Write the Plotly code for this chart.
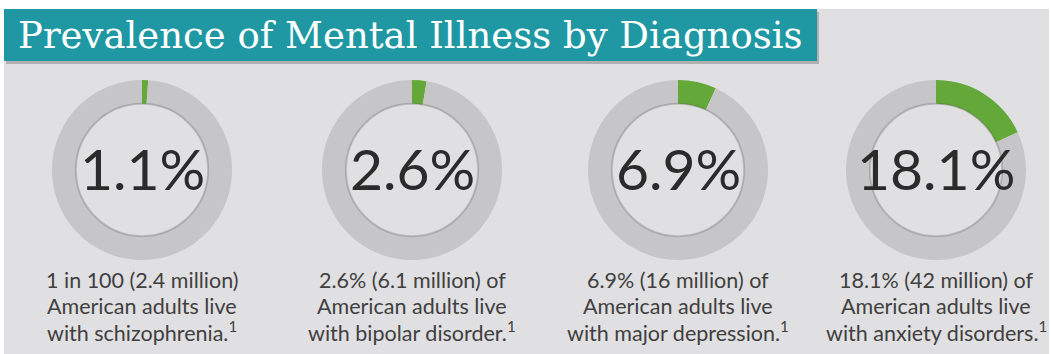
import plotly.graph_objects as go

# Prevalence figures (% of American adults)
diagnoses = ["Schizophrenia", "Bipolar disorder", "Major depression", "Anxiety disorders"]
prevalence = [1.1, 2.6, 6.9, 18.1]
center_labels = ["1.1%", "2.6%", "6.9%", "18.1%"]
captions = [
    ["1 in 100 (2.4 million)", "American adults live", "with schizophrenia."],
    ["2.6% (6.1 million) of", "American adults live", "with bipolar disorder."],
    ["6.9% (16 million) of", "American adults live", "with major depression."],
    ["18.1% (42 million) of", "American adults live", "with anxiety disorders."],
]
footnote = "1"
title = "Prevalence of Mental Illness by Diagnosis"

W, H = 1051, 354
centers_x = [142, 412, 678, 936]
center_y = 170
radius = 90
hole = 0.735

GREEN = "#64a83a"
RING = "#c6c5c7"
BG = "#e0dfe1"
TEAL = "#1f98a4"
INK = "#2b2b2b"
CAPTION_INK = "#404040"

fig = go.Figure()
shapes = [
    # grey panel
    dict(type="rect", xref="paper", yref="paper",
         x0=4 / W, x1=1049 / W, y0=0, y1=1 - 9 / H,
         fillcolor=BG, line=dict(width=0), layer="below"),
    # banner shadow
    dict(type="rect", xref="paper", yref="paper",
         x0=6 / W, x1=819 / W, y0=1 - 64 / H, y1=1 - 12 / H,
         fillcolor="rgba(90,90,90,0.35)", line=dict(width=0), layer="below"),
    # teal title banner
    dict(type="rect", xref="paper", yref="paper",
         x0=4 / W, x1=817 / W, y0=1 - 61 / H, y1=1 - 9 / H,
         fillcolor=TEAL, line=dict(width=0), layer="below"),
]

for i, (name, pct) in enumerate(zip(diagnoses, prevalence)):
    cx = centers_x[i]
    fig.add_trace(go.Pie(
        labels=[name, "Other"],
        values=[pct, 100 - pct],
        sort=False,
        direction="clockwise",
        rotation=0,
        hole=hole,
        marker=dict(colors=[GREEN, RING], line=dict(width=0)),
        textinfo="none",
        hoverinfo="skip",
        showlegend=False,
        domain=dict(
            x=[(cx - radius) / W, (cx + radius) / W],
            y=[1 - (center_y + radius) / H, 1 - (center_y - radius) / H],
        ),
    ))
    # soft rim along the inside edge of the ring
    r_in = radius * hole
    shapes.append(dict(
        type="circle", xref="paper", yref="paper",
        x0=(cx - r_in) / W, x1=(cx + r_in) / W,
        y0=1 - (center_y + r_in) / H, y1=1 - (center_y - r_in) / H,
        line=dict(color="rgba(95,95,95,0.28)", width=2), layer="above",
    ))
    # large percentage in the middle of the ring
    fig.add_annotation(
        x=cx / W, y=1 - (center_y - 2) / H, xref="paper", yref="paper",
        text=center_labels[i], showarrow=False,
        font=dict(family="Lato, sans-serif", size=57, color=INK),
        xanchor="center", yanchor="middle",
    )
    # three-line caption under each ring
    lines = list(captions[i])
    lines[-1] = lines[-1] + f"<sup>{footnote}</sup>"
    for j, line in enumerate(lines):
        fig.add_annotation(
            x=cx / W, y=1 - (280 + 25.5 * j) / H, xref="paper", yref="paper",
            text=line, showarrow=False,
            font=dict(family="Lato, 'Open Sans', sans-serif", size=21.5, color=CAPTION_INK),
            xanchor="center", yanchor="middle",
        )

fig.add_annotation(
    x=16 / W, y=1 - 35 / H, xref="paper", yref="paper",
    text=title, showarrow=False,
    font=dict(family="'DejaVu Serif', serif", size=37, color="white"),
    xanchor="left", yanchor="middle",
)

fig.update_layout(
    width=W, height=H,
    margin=dict(l=0, r=0, t=0, b=0),
    paper_bgcolor="white",
    plot_bgcolor="white",
    shapes=shapes,
    showlegend=False,
)

fig.write_html("out.html")
